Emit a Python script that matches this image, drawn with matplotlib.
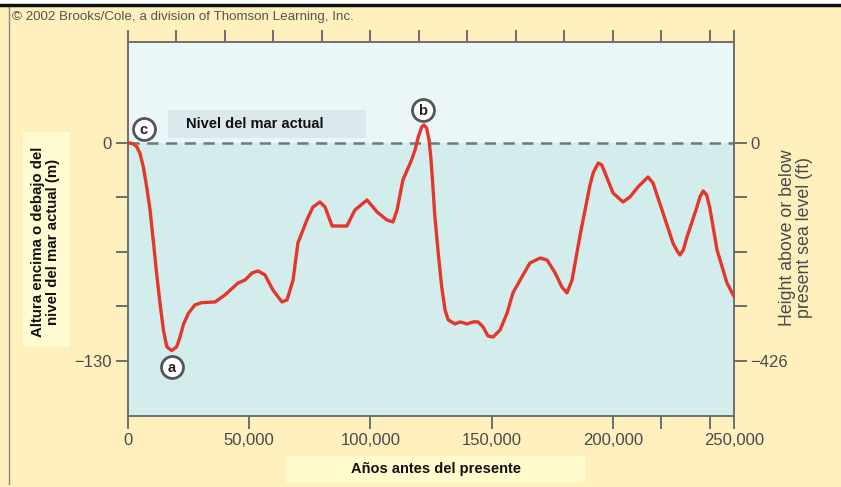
import matplotlib
matplotlib.use("Agg")
import matplotlib.pyplot as plt
from matplotlib.patches import Rectangle
from matplotlib.lines import Line2D

plt.rcParams['font.family'] = ['Liberation Sans', 'DejaVu Sans']

# Sea level record (years before present, metres relative to present sea level)
years = [0, 830, 2200, 3600, 4950, 6300, 7700, 9100, 10400, 11800, 13200, 14600,
         16000, 18000, 20100, 21500, 22800, 24900, 27600, 30400, 35900, 40000,
         45400, 48300, 51200, 53600, 56500, 59800, 63500, 65600, 68100, 70100,
         73800, 76300, 79200, 81300, 84200, 90300, 93600, 98600, 102700, 106800,
         109300, 111000, 113400, 117000, 118400, 119800, 121200, 122100, 123200,
         124200, 124900, 125700, 126600, 128000, 129400, 130800, 132100, 134900,
         137000, 139900, 142300, 144400, 146500, 148500, 150600, 153500, 156400,
         158800, 162500, 165800, 170000, 172900, 176200, 179000, 181100, 183200,
         186500, 190600, 192000, 194000, 195400, 196800, 200100, 204200, 207100,
         210400, 214500, 216600, 220700, 224800, 226300, 227700, 229100, 230600,
         234700, 236000, 237300, 238700, 240000, 243000, 247100, 250000]
sea_level = [0, 0, -0.6, -2.2, -6.2, -14.1, -26.1, -40.0, -57.8, -77.7, -95.6,
             -111.5, -121.5, -123.8, -121.5, -115.5, -108.5, -101.6, -96.6, -95.2,
             -94.8, -90.6, -83.5, -81.7, -77.5, -76.3, -78.7, -87.7, -94.8, -93.6,
             -81.7, -59.6, -45.9, -38.2, -35.2, -38.2, -49.5, -49.5, -40.0, -34.0,
             -41.1, -45.9, -47.1, -40.0, -22.1, -10.1, -4.2, 3.8, 9.7, 10.7, 8.8,
             1.8, -8.2, -24.0, -44.0, -65.8, -85.7, -99.6, -105.5, -107.9, -106.7,
             -107.9, -106.7, -106.7, -109.7, -115.1, -115.7, -111.5, -101.4, -89.4,
             -79.9, -71.6, -68.6, -69.8, -77.5, -85.9, -89.4, -81.7, -54.9, -25.0,
             -17.5, -12.0, -13.0, -17.9, -29.8, -35.2, -32.2, -26.2, -20.3, -23.9,
             -41.7, -59.6, -63.8, -66.8, -63.8, -56.1, -38.2, -32.0, -28.6, -31.0,
             -38.5, -63.8, -83.5, -91.5]

x_ticks = [0, 50000, 100000, 150000, 200000, 250000]
x_tick_labels = ["0", "50,000", "100,000", "150,000", "200,000", "250,000"]
x_extra_ticks = [220000, 240000]
top_ticks = list(range(0, 250001, 20000)) + [250000]
y_ticks = [0, -32.5, -65, -97.5, -130]
y_left_labels = ["0", "", "", "", "\u2212130"]
y_right_labels = ["0", "", "", "", "\u2212426"]

# label markers: (x, y, letter)
markers = [(18200, -133.5, "a"), (121700, 19.5, "b"), (6500, 8.5, "c")]

BG = "#FFF0BE"
UPPER = "#EAF6F8"
LOWER = "#D3EDEC"
AXC = "#6E6E6E"
TXT = "#4A4A4A"

fig = plt.figure(figsize=(8.41, 4.87), dpi=100, facecolor=BG)
W, H = 841, 487

def fx(px):
    return px / W

def fy(py):
    return 1 - py / H

ax = fig.add_axes([fx(128), fy(416), fx(734) - fx(128), fy(42) - fy(416)])
ax.set_xlim(0, 250000)
ax.set_ylim(-162.8, 60.2)
ax.set_facecolor(LOWER)
ax.axhspan(0, 60.2, color=UPPER, zorder=0, lw=0)

ax.axhline(0, color="#6B7A80", lw=1.8, ls=(0, (4.5, 3)), zorder=2)
ax.plot(years, sea_level, color="#E5362B", lw=2.4, zorder=3,
        solid_joinstyle="round", solid_capstyle="round")

for s in ax.spines.values():
    s.set_color(AXC)
    s.set_linewidth(1.4)

ax.set_xticks(x_ticks + x_extra_ticks)
ax.set_xticklabels(x_tick_labels + ["", ""])
ax.set_yticks(y_ticks)
ax.set_yticklabels(y_left_labels)
ax.tick_params(axis="both", direction="out", length=9, width=1.4, color=AXC,
               labelcolor=TXT, labelsize=12)
ax.tick_params(axis="x", pad=3)
ax.tick_params(axis="y", pad=3)

axt = ax.twiny()
axt.set_xlim(ax.get_xlim())
axt.set_xticks(top_ticks)
axt.set_xticklabels([])
axt.tick_params(axis="x", direction="out", length=9, width=1.4, color=AXC)

axr = ax.twinx()
axr.set_ylim(ax.get_ylim())
axr.set_yticks(y_ticks)
axr.set_yticklabels(y_right_labels)
axr.tick_params(axis="y", direction="out", length=9, width=1.4, color=AXC,
                labelcolor=TXT, labelsize=12, pad=3)
for a in (axt, axr):
    for s in a.spines.values():
        s.set_visible(False)

# circled letters
for mx, my, letter in markers:
    ax.scatter([mx], [my], s=250, facecolor="white", edgecolor="#555555",
               linewidth=2.0, zorder=5, clip_on=False)
    ax.text(mx, my - 0.5, letter, ha="center", va="center", fontsize=10.5,
            fontweight="bold", color="#222222", zorder=6, clip_on=False)

# "Nivel del mar actual" label box
fig.patches.append(Rectangle((fx(168), fy(138)), fx(366) - fx(168), fy(110) - fy(138),
                             transform=fig.transFigure, facecolor="#DCE9EC",
                             edgecolor="none", zorder=4))
fig.text(fx(255), fy(124.5), "Nivel del mar actual", ha="center", va="center",
         fontsize=10.5, fontweight="bold", color="#111111", zorder=5)

# x-axis title box
fig.patches.append(Rectangle((fx(286), fy(483)), fx(585) - fx(286), fy(456) - fy(483),
                             transform=fig.transFigure, facecolor="#FFFBCC",
                             edgecolor="none", zorder=1))
fig.text(fx(435.5), fy(469.5), "Años antes del presente", ha="center", va="center",
         fontsize=10.5, fontweight="bold", color="#111111", zorder=2)

# left y-axis title box
fig.patches.append(Rectangle((fx(23), fy(347)), fx(70) - fx(23), fy(132) - fy(347),
                             transform=fig.transFigure, facecolor="#FFFBD2",
                             edgecolor="none", zorder=1))
fig.text(fx(45.5), fy(242), "Altura encima o debajo del\nnivel del mar actual (m)",
         ha="center", va="center", rotation=90, fontsize=10.8, fontweight="bold",
         color="#111111", linespacing=1.05, zorder=2)

# right y-axis title
fig.text(fx(796), fy(238), "Height above or below\npresent sea level (ft)",
         ha="center", va="center", rotation=90, fontsize=12.8, color=TXT,
         linespacing=1.0)

# copyright line
fig.text(fx(12), fy(17), "\u00a9 2002 Brooks/Cole, a division of Thomson Learning, Inc.",
         ha="left", va="center", fontsize=9.6, color="#555555")

# outer frame
fig.patches.append(Rectangle((0, fy(5)), 1, 1 - fy(5), transform=fig.transFigure,
                             facecolor="white", edgecolor="none", zorder=0))
fig.add_artist(Line2D([fx(8.5), fx(8.5)], [fy(5), fy(484)], transform=fig.transFigure,
                      color="#8A8A8A", lw=1.0))
fig.add_artist(Line2D([0, 1], [fy(5), fy(5)], transform=fig.transFigure,
                      color="#111111", lw=2.5))

fig.savefig("out.png", dpi=100, facecolor=BG)
